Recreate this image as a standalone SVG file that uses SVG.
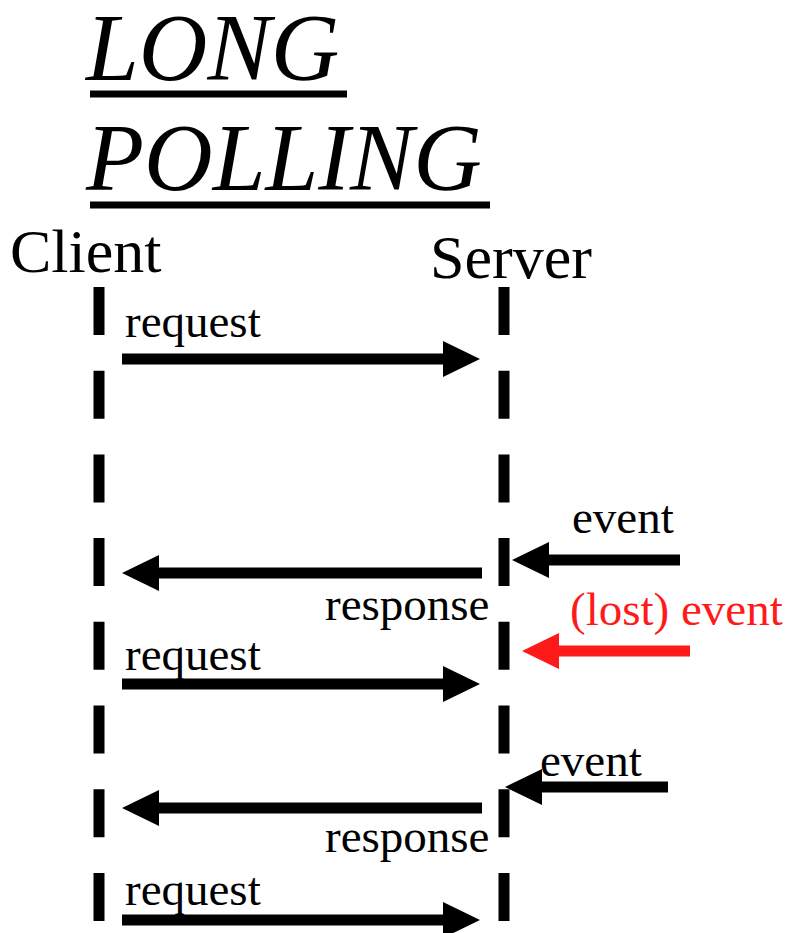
<svg xmlns="http://www.w3.org/2000/svg" width="791" height="933" viewBox="0 0 791 933">
<style>
  text { font-family: "Liberation Serif", "Times New Roman", serif; fill: #000; }
  .title { font-size: 95px; font-style: italic; }
  .actor { font-size: 62px; }
  .lbl { font-size: 47px; }
  .lost { fill: #ff1a1a; }
  .life { stroke: #000; stroke-width: 11; stroke-dasharray: 48 35.7; fill: none; }
  .arr { stroke: #000; stroke-width: 11; fill: none; marker-end: url(#head); }
  .arr-red { stroke: #ff1a1a; stroke-width: 11; fill: none; marker-end: url(#headRed); }
  .ul { stroke: #000; stroke-width: 7; }
</style>
<defs>
  <marker id="head" markerUnits="userSpaceOnUse" markerWidth="37" markerHeight="36" viewBox="0 0 37 36" refX="0" refY="18" orient="auto">
    <path d="M0,0 L37,18 L0,36 Z" fill="#000"/>
  </marker>
  <marker id="headRed" markerUnits="userSpaceOnUse" markerWidth="37" markerHeight="36" viewBox="0 0 37 36" refX="0" refY="18" orient="auto">
    <path d="M0,0 L37,18 L0,36 Z" fill="#ff1a1a"/>
  </marker>
</defs>
<rect width="791" height="933" fill="#fff"/>
<g id="title">
  <text class="title" x="86" y="80">LONG</text>
  <line class="ul" x1="90" y1="94" x2="347" y2="94"/>
  <text class="title" x="86" y="190">POLLING</text>
  <line class="ul" x1="90" y1="205" x2="490" y2="205"/>
</g>
<g id="client">
  <text class="actor" x="10" y="272">Client</text>
  <line class="life" x1="99" y1="287" x2="99" y2="933"/>
</g>
<g id="server">
  <text class="actor" x="430" y="278">Server</text>
  <line class="life" x1="504" y1="287" x2="504" y2="933"/>
</g>
<g id="connectors">
  <g id="request1">
    <text class="lbl" x="125" y="337">request</text>
    <line class="arr" x1="122" y1="359" x2="443" y2="359"/>
  </g>
  <g id="event1">
    <text class="lbl" x="572" y="533">event</text>
    <line class="arr" x1="680" y1="560" x2="549" y2="560"/>
  </g>
  <g id="response1">
    <line class="arr" x1="482" y1="573" x2="159" y2="573"/>
    <text class="lbl" x="325" y="620">response</text>
  </g>
  <g id="lostEvent">
    <text class="lbl lost" x="570" y="625">(lost) event</text>
    <line class="arr-red" x1="690" y1="651" x2="559" y2="651"/>
  </g>
  <g id="request2">
    <text class="lbl" x="125" y="670">request</text>
    <line class="arr" x1="122" y1="684" x2="443" y2="684"/>
  </g>
  <g id="event3">
    <text class="lbl" x="540" y="776">event</text>
    <line class="arr" x1="668" y1="787" x2="542" y2="787"/>
  </g>
  <g id="response2">
    <line class="arr" x1="482" y1="808" x2="159" y2="808"/>
    <text class="lbl" x="325" y="852">response</text>
  </g>
  <g id="request3">
    <text class="lbl" x="125" y="905">request</text>
    <line class="arr" x1="122" y1="920" x2="443" y2="920"/>
  </g>
</g>
</svg>
